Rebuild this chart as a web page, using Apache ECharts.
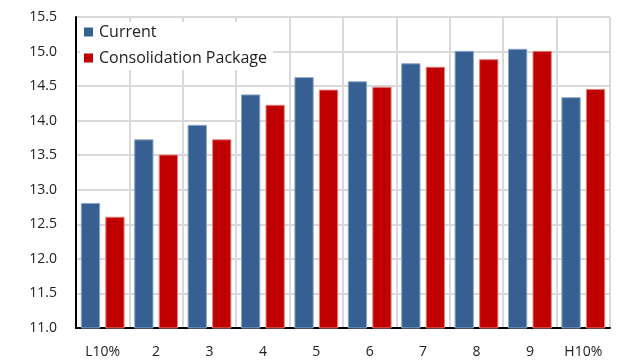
<!DOCTYPE html>
<html>
<head>
<meta charset="utf-8">
<script src="https://cdn.jsdelivr.net/npm/echarts@6/dist/echarts.min.js"></script>
<style>
  html, body { margin: 0; padding: 0; background: #fff; }
  #chart { width: 627px; height: 360px; }
</style>
</head>
<body>
<div id="chart"></div>
<script>
// Deciles along the x axis
const categories = ['L10%', '2', '3', '4', '5', '6', '7', '8', '9', 'H10%'];
// Values per decile for each scenario
const currentValues = [12.81, 13.73, 13.94, 14.38, 14.63, 14.57, 14.83, 15.01, 15.04, 14.34];
const consolidationValues = [12.61, 13.51, 13.73, 14.23, 14.45, 14.49, 14.78, 14.89, 15.01, 14.46];
const seriesNames = ['Current', 'Consolidation Package'];

const FONT = '"Open Sans", "Liberation Sans", sans-serif';
const chart = echarts.init(document.getElementById('chart'), null, { renderer: 'canvas' });

chart.setOption({
  animation: false,
  textStyle: { fontFamily: FONT },
  grid: { left: 76, right: 17, top: 17, bottom: 32, containLabel: false },
  legend: {
    orient: 'vertical',
    left: 80,
    top: 22,
    icon: 'rect',
    itemWidth: 9,
    itemHeight: 9,
    itemGap: 10,
    padding: [2, 6, 4, 4],
    backgroundColor: '#fff',
    itemStyle: { borderWidth: 0 },
    textStyle: { fontFamily: FONT, fontSize: 16, color: '#222', padding: [0, 0, 0, 1] },
    data: seriesNames
  },
  xAxis: {
    type: 'category',
    data: categories,
    axisLine: { lineStyle: { color: '#000', width: 2 } },
    axisTick: { show: false },
    axisLabel: { color: '#222', fontSize: 14, margin: 17, fontFamily: FONT },
    splitLine: { show: true, lineStyle: { color: '#d9d9d9', width: 2 } }
  },
  yAxis: {
    type: 'value',
    min: 11,
    max: 15.5,
    interval: 0.5,
    axisLine: { show: true, lineStyle: { color: '#000', width: 2 } },
    axisTick: { show: false },
    axisLabel: {
      color: '#222', fontSize: 14, margin: 19, fontFamily: FONT,
      formatter: v => v.toFixed(1)
    },
    splitLine: { show: true, lineStyle: { color: '#d9d9d9', width: 2 } }
  },
  series: [
    {
      name: seriesNames[0],
      type: 'bar',
      data: currentValues,
      barGap: '27%',
      barCategoryGap: '18%',
      itemStyle: { color: '#366092', borderColor: '#8ea6c6', borderWidth: 1 }
    },
    {
      name: seriesNames[1],
      type: 'bar',
      data: consolidationValues,
      itemStyle: { color: '#c00000', borderColor: '#e08080', borderWidth: 1 }
    }
  ]
});
</script>
</body>
</html>
